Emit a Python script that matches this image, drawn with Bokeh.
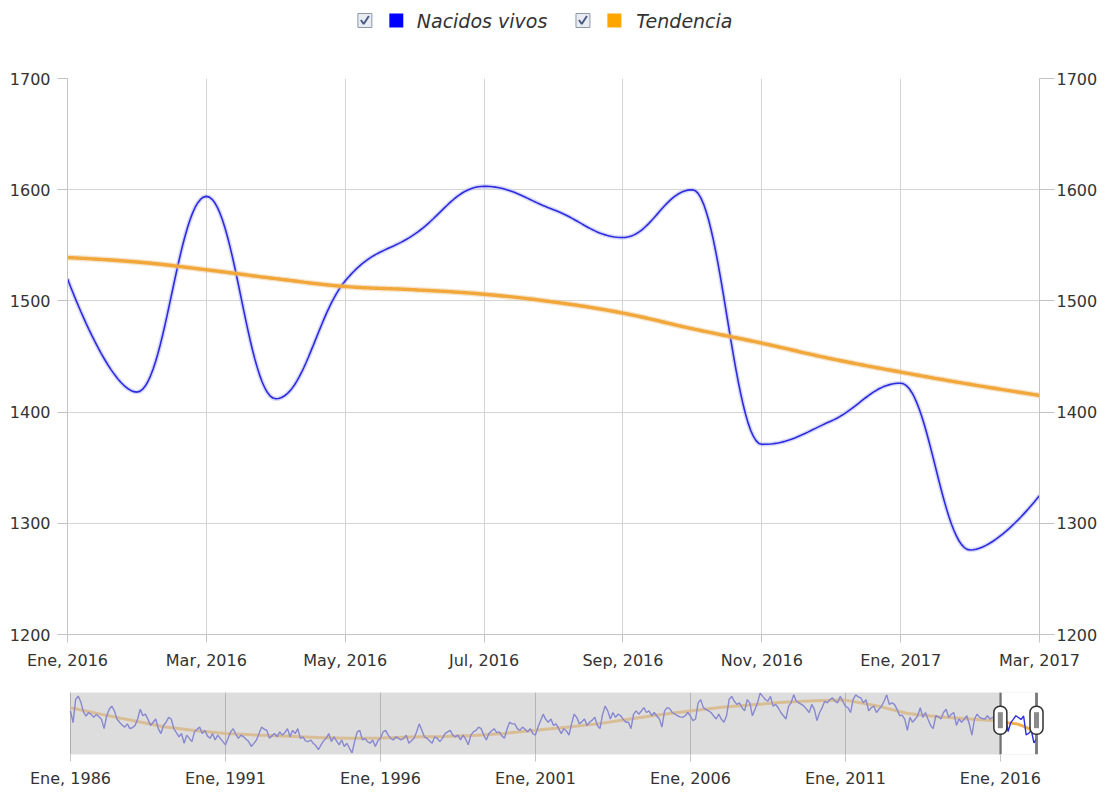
import numpy as np
from bokeh.plotting import figure
from bokeh.models import Range1d, LinearAxis, FixedTicker, BoxAnnotation
from bokeh.layouts import column
from bokeh.core.properties import value
from bokeh.embed import file_html
from bokeh.resources import INLINE

FONT = "DejaVu Sans"
TXT = "#333333"

# ---------------- data ----------------
# Main view: Ene 2016 .. Mar 2017 (monthly)
nacidos_2016 = [1520, 1418, 1594, 1412, 1518, 1560, 1603, 1582, 1557, 1600, 1371, 1392, 1426, 1276, 1325]
tendencia_2016 = [1539, 1535, 1528, 1520, 1513, 1510, 1506, 1499, 1489, 1475, 1462, 1448, 1436, 1425, 1415]
main_tick_labels = ["Ene, 2016", "Mar, 2016", "May, 2016", "Jul, 2016", "Sep, 2016",
                    "Nov, 2016", "Ene, 2017", "Mar, 2017"]
y_ticks = [1200, 1300, 1400, 1500, 1600, 1700]

# Navigator history: monthly values 1986 .. 2015 (one row per year)
nacidos_1986_2015 = [
    [1660, 1520, 1800, 1840, 1770, 1650, 1600, 1640, 1620, 1585, 1620, 1590],  # 1986
    [1560, 1447, 1600, 1681, 1720, 1660, 1564, 1525, 1490, 1466, 1505, 1447],  # 1987
    [1460, 1486, 1564, 1681, 1603, 1622, 1560, 1486, 1525, 1564, 1447, 1388],  # 1988
    [1486, 1525, 1583, 1564, 1447, 1400, 1349, 1388, 1271, 1369, 1330, 1291],  # 1989
    [1408, 1440, 1466, 1388, 1427, 1360, 1330, 1388, 1310, 1369, 1330, 1291],  # 1990
    [1252, 1330, 1408, 1447, 1380, 1330, 1369, 1349, 1320, 1291, 1232, 1270],  # 1991
    [1310, 1388, 1466, 1440, 1427, 1330, 1360, 1388, 1349, 1408, 1369, 1400],  # 1992
    [1447, 1349, 1427, 1388, 1447, 1330, 1349, 1300, 1291, 1310, 1270, 1240],  # 1993
    [1193, 1252, 1300, 1330, 1388, 1291, 1349, 1300, 1252, 1310, 1232, 1271],  # 1994
    [1210, 1154, 1291, 1408, 1427, 1310, 1330, 1290, 1271, 1310, 1232, 1300],  # 1995
    [1330, 1408, 1427, 1369, 1330, 1310, 1349, 1330, 1310, 1330, 1369, 1271],  # 1996
    [1300, 1330, 1408, 1505, 1430, 1349, 1330, 1300, 1271, 1349, 1330, 1291],  # 1997
    [1330, 1388, 1408, 1427, 1369, 1349, 1369, 1310, 1369, 1320, 1252, 1369],  # 1998
    [1408, 1427, 1466, 1447, 1369, 1310, 1388, 1420, 1447, 1400, 1408, 1360],  # 1999
    [1330, 1440, 1525, 1505, 1505, 1447, 1427, 1466, 1440, 1408, 1447, 1388],  # 2000
    [1369, 1466, 1544, 1622, 1560, 1525, 1564, 1486, 1505, 1447, 1388, 1447],  # 2001
    [1420, 1369, 1505, 1622, 1584, 1505, 1530, 1564, 1486, 1525, 1550, 1584],  # 2002
    [1486, 1447, 1620, 1720, 1662, 1564, 1642, 1584, 1622, 1603, 1560, 1525],  # 2003
    [1525, 1447, 1622, 1662, 1622, 1660, 1701, 1642, 1662, 1603, 1642, 1600],  # 2004
    [1564, 1466, 1662, 1701, 1690, 1642, 1622, 1603, 1590, 1584, 1603, 1642],  # 2005
    [1600, 1544, 1564, 1759, 1798, 1701, 1681, 1662, 1642, 1600, 1564, 1622],  # 2006
    [1560, 1525, 1603, 1800, 1837, 1778, 1740, 1759, 1700, 1662, 1798, 1759],  # 2007
    [1603, 1680, 1759, 1876, 1837, 1800, 1778, 1837, 1720, 1740, 1700, 1642],  # 2008
    [1603, 1564, 1720, 1759, 1856, 1778, 1759, 1740, 1720, 1681, 1642, 1740],  # 2009
    [1681, 1544, 1640, 1701, 1778, 1759, 1798, 1818, 1780, 1759, 1837, 1778],  # 2010
    [1720, 1700, 1642, 1798, 1856, 1830, 1818, 1759, 1798, 1662, 1700, 1720],  # 2011
    [1642, 1681, 1720, 1778, 1856, 1740, 1759, 1740, 1681, 1603, 1610, 1560],  # 2012
    [1427, 1584, 1525, 1560, 1603, 1701, 1584, 1642, 1560, 1486, 1447, 1603],  # 2013
    [1590, 1564, 1642, 1681, 1584, 1620, 1642, 1486, 1564, 1525, 1560, 1603],  # 2014
    [1500, 1369, 1564, 1622, 1584, 1570, 1564, 1603, 1564, 1584, 1570, 1564],  # 2015
]
# Trend, January of each year 1986 .. 2015
tendencia_anual = [1700, 1620, 1545, 1470, 1425, 1390, 1370, 1355, 1340, 1332,
                   1335, 1345, 1352, 1365, 1390, 1427, 1465, 1505, 1560, 1615,
                   1661, 1705, 1735, 1765, 1785, 1792, 1725, 1630, 1590, 1565]
nav_tick_labels = ["Ene, 1986", "Ene, 1991", "Ene, 1996", "Ene, 2001",
                   "Ene, 2006", "Ene, 2011", "Ene, 2016"]
nav_y_range = (1135, 1884)

legend_labels = ["Nacidos vivos", "Tendencia"]
BLUE = "#2b2be0"
ORANGE = "#f2a73a"


def smooth_spline(xs, ys, n=28, smoothing=1.5):
    """Bezier spline through the points with flat tangents at local extremes."""
    N = len(xs)
    lc = [None] * N
    rc = [None] * N
    d = smoothing + 1
    for i in range(1, N - 1):
        px, py = xs[i], ys[i]
        lx, ly = xs[i - 1], ys[i - 1]
        nx, ny = xs[i + 1], ys[i + 1]
        lcx, lcy = (smoothing * px + lx) / d, (smoothing * py + ly) / d
        rcx, rcy = (smoothing * px + nx) / d, (smoothing * py + ny) / d
        if rcx != lcx:
            corr = (rcy - lcy) * (rcx - px) / (rcx - lcx) + py - rcy
            lcy += corr
            rcy += corr
        if lcy > ly and lcy > py:
            lcy = max(ly, py); rcy = 2 * py - lcy
        elif lcy < ly and lcy < py:
            lcy = min(ly, py); rcy = 2 * py - lcy
        if rcy > ny and rcy > py:
            rcy = max(ny, py); lcy = 2 * py - rcy
        elif rcy < ny and rcy < py:
            rcy = min(ny, py); lcy = 2 * py - rcy
        lc[i] = (lcx, lcy)
        rc[i] = (rcx, rcy)
    t = np.linspace(0, 1, n, endpoint=False)
    ox, oy = [], []
    for i in range(N - 1):
        p0 = (xs[i], ys[i])
        p3 = (xs[i + 1], ys[i + 1])
        c1 = rc[i] if rc[i] is not None else p0
        c2 = lc[i + 1] if lc[i + 1] is not None else p3
        for k, out in ((0, ox), (1, oy)):
            out.extend((1 - t) ** 3 * p0[k] + 3 * (1 - t) ** 2 * t * c1[k]
                       + 3 * (1 - t) * t ** 2 * c2[k] + t ** 3 * p3[k])
    ox.append(xs[-1])
    oy.append(ys[-1])
    return ox, oy


W = 1100
FL, FR = 67, 1041           # frame left / right (page px)
BL, BR = FL, W - FR

# ---------------- legend strip ----------------
leg = figure(width=W, height=40, x_range=Range1d(FL, FR), y_range=Range1d(0, 40),
             output_backend="svg", toolbar_location=None,
             min_border_left=BL, min_border_right=BR, min_border_top=0, min_border_bottom=0,
             x_axis_location=None, y_axis_location=None)
leg.grid.visible = False
leg.outline_line_color = None
cy = 20
box_x = [365, 583.5]
sw_x = [396.5, 615]
txt_x = [417, 637]
sw_colors = ["#0000ff", "#ffa500"]
leg.rect(x=box_x, y=[cy, cy], width=14, height=14, fill_color="#e9ecf3",
         line_color="#8e97a8", line_width=1)
for bx in box_x:
    leg.line(x=[bx - 4, bx - 1.2, bx + 4], y=[cy + 0.5, cy - 3.5, cy + 4.5],
             line_color="#4b5d87", line_width=2)
leg.rect(x=sw_x, y=[cy, cy], width=14, height=14, fill_color=sw_colors,
         line_color=None)
leg.text(x=txt_x, y=[cy, cy], text=legend_labels, text_font=value(FONT),
         text_font_style="italic", text_font_size="19px", text_color=TXT,
         text_baseline="middle", text_align="left")

# ---------------- main chart ----------------
mx = list(range(len(nacidos_2016)))
p = figure(width=W, height=632, x_range=Range1d(0, len(mx) - 1),
           y_range=Range1d(y_ticks[0], y_ticks[-1]),
           output_backend="svg", toolbar_location=None,
           min_border_left=BL, min_border_right=BR, min_border_top=38, min_border_bottom=37)
p.add_layout(LinearAxis(), "right")
p.outline_line_color = None

xt = mx[::2]
for ax in p.axis:
    ax.axis_line_color = "#c4c4c4"
    ax.major_tick_line_color = "#c4c4c4"
    ax.major_tick_in = 0
    ax.minor_tick_line_color = None
    ax.major_label_text_font = FONT
    ax.major_label_text_font_size = "16px"
    ax.major_label_text_color = TXT
for ax in p.yaxis:
    ax.ticker = FixedTicker(ticks=y_ticks)
p.left[0].major_tick_out = 10
p.left[0].major_label_standoff = 7
p.right[0].major_tick_out = 15
p.right[0].major_label_standoff = 2
for ax in p.xaxis:
    ax.ticker = FixedTicker(ticks=xt)
    ax.major_label_overrides = {t: lab for t, lab in zip(xt, main_tick_labels)}
    ax.major_tick_out = 8
    ax.major_label_standoff = 8
p.xgrid.ticker = FixedTicker(ticks=xt)
p.ygrid.ticker = FixedTicker(ticks=y_ticks)
p.grid.grid_line_color = "#d4d4d4"
p.grid.grid_line_width = 1

sx, sy = smooth_spline(mx, nacidos_2016)
tx, ty = smooth_spline(mx, tendencia_2016)
p.line(sx, sy, line_color="#b9b9f2", line_width=4.5, line_alpha=0.55)
p.line(sx, sy, line_color=BLUE, line_width=1.6)
p.line(tx, ty, line_color="#e8c48a", line_width=6, line_alpha=0.45)
p.line(tx, ty, line_color=ORANGE, line_width=3.4)

# ---------------- navigator ----------------
hist = [v for row in nacidos_1986_2015 for v in row]
nav_y = hist + nacidos_2016
nav_x = list(range(len(nav_y)))
sel_start = len(hist)
sel_end = len(nav_y) - 1
trend_x = [12 * i for i in range(len(tendencia_anual))] + list(range(sel_start, sel_end + 1))
trend_y = tendencia_anual + tendencia_2016
pad = 3 * sel_end / (FR - FL - 6)

nav = figure(width=W, height=118, x_range=Range1d(-pad, sel_end + pad),
             y_range=Range1d(*nav_y_range), output_backend="svg", toolbar_location=None,
             y_axis_location=None,
             min_border_left=BL, min_border_right=BR, min_border_top=20, min_border_bottom=34)
nav.outline_line_color = None
nt = list(range(0, sel_start + 1, 60))
nav.xaxis.ticker = FixedTicker(ticks=nt)
nav.xaxis.major_label_overrides = {t: lab for t, lab in zip(nt, nav_tick_labels)}
nav.xaxis.axis_line_color = None
nav.xaxis.major_tick_line_color = "#c4c4c4"
nav.xaxis.major_tick_in = 0
nav.xaxis.major_tick_out = 7
nav.xaxis.minor_tick_line_color = None
nav.xaxis.major_label_text_font = FONT
nav.xaxis.major_label_text_font_size = "16px"
nav.xaxis.major_label_text_color = TXT
nav.xaxis.major_label_standoff = 7
nav.xgrid.ticker = FixedTicker(ticks=nt)
nav.xgrid.grid_line_color = "#9a9a9a"
nav.ygrid.visible = False

nav.line(trend_x, trend_y, line_color=ORANGE, line_width=3, line_alpha=0.9)
nav.line(nav_x, nav_y, line_color=BLUE, line_width=1.4)
nav.add_layout(BoxAnnotation(left=0, right=sel_start, fill_color="#c6c6c6", fill_alpha=0.6,
                             line_color=None))
nav.add_layout(BoxAnnotation(left=0, right=sel_end, fill_color=None,
                             line_color="#c8c8c8", line_width=1))
ymid = (nav_y_range[0] + nav_y_range[1]) / 2 + 40
nav.segment(x0=[sel_start, sel_end], y0=[nav_y_range[0]] * 2, x1=[sel_start, sel_end],
            y1=[nav_y_range[1]] * 2, line_color="#5a5a5a", line_width=2.5)
nav.rect(x=[sel_start, sel_end], y=[ymid, ymid], width=13, height=28,
         width_units="screen", height_units="screen", fill_color="white",
         line_color="#303030", line_width=1.5, border_radius=6, level="overlay")
nav.rect(x=[sel_start, sel_end], y=[ymid, ymid], width=5, height=16,
         width_units="screen", height_units="screen", fill_color="#8a8a8a",
         line_color=None, level="overlay")

layout = column(leg, p, nav)
open("out.html", "w").write(file_html(layout, INLINE))
